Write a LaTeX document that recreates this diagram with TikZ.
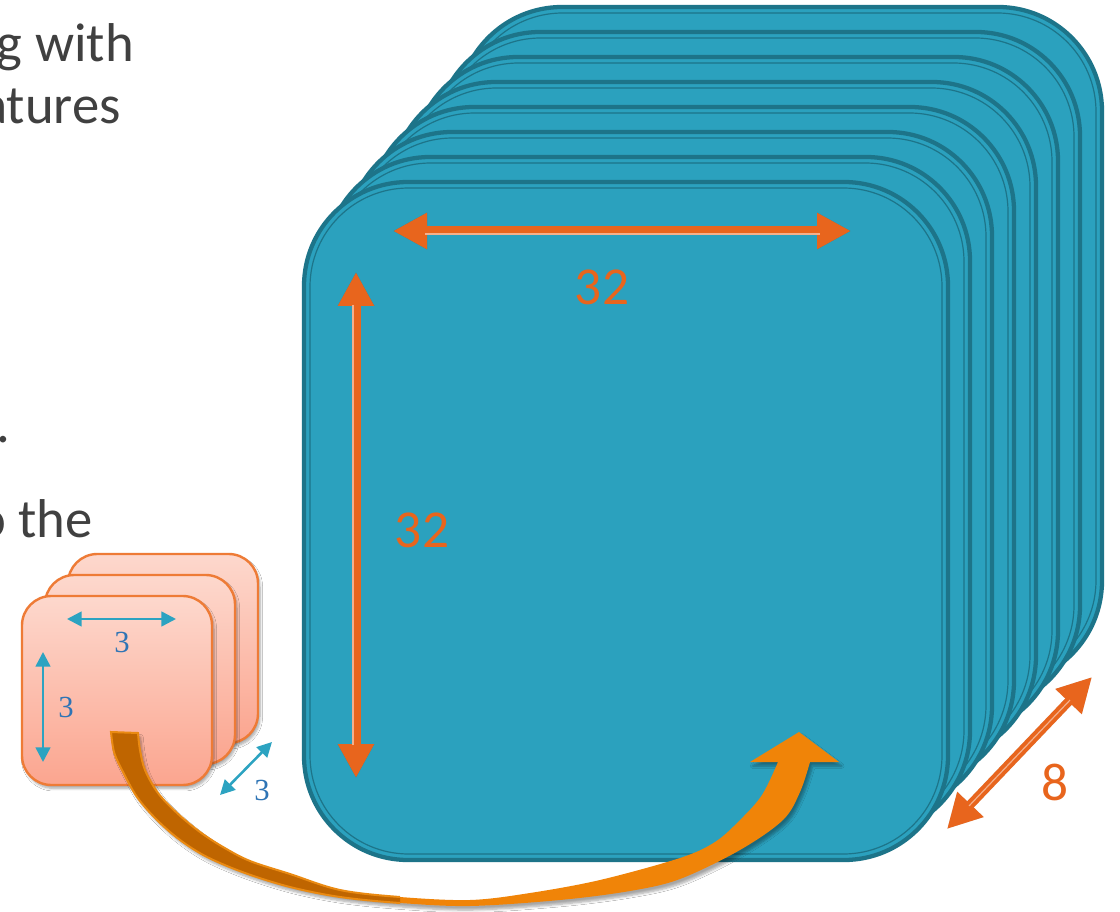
\documentclass[tikz,border=0pt]{standalone}
\usepackage{fontspec}
\setmainfont{Carlito}
\newfontfamily\serifdigits{Liberation Serif}
\usetikzlibrary{arrows.meta,shadows.blur}
\definecolor{bluefill}{HTML}{2BA1BE}
\definecolor{bluedark}{HTML}{1D7489}
\definecolor{orangeA}{HTML}{E8651D}
\definecolor{orangeLight}{HTML}{F4B08C}
\definecolor{pinkTop}{HTML}{FDD8CD}
\definecolor{pinkBot}{HTML}{FBA58F}
\definecolor{pinkEdge}{HTML}{EE7B36}
\definecolor{smallblue}{HTML}{2CA3C1}
\definecolor{labelblue}{HTML}{2E74B5}
\definecolor{textgray}{HTML}{404040}
\definecolor{curveLight}{HTML}{F08408}
\definecolor{curveDark}{HTML}{BF6500}
\definecolor{curveRim}{HTML}{EA8A12}
\def\curveshape{plot[smooth,tension=0.55] coordinates {(111,732) (114,752) (122,770) (137,797) (157,820) (180,840) (207,857) (245,873) (290,887) (340,897) (400,903) (470,906) (560,900) (630,891) (680,879) (740,850) (783,820) (800,792) (810,762)} -- (839,762) -- (799,732) -- (750,762) -- plot[smooth,tension=0.55] coordinates {(778,762) (762,795) (740,820) (715,842) (680,858) (600,880) (530,893) (470,900) (400,897) (340,890) (290,874) (250,861) (223,847) (200,832) (177,813) (158,793) (145,770) (140,750) (138,733)} -- cycle}
\begin{document}
\begin{tikzpicture}[x=0.75pt,y=-0.75pt,
  bluelayer/.style={fill=bluefill,draw=bluedark,line width=3.2pt,rounded corners=78pt},
  blueinner/.style={draw=bluedark,line width=0.9pt,rounded corners=74pt},
  pinklayer/.style={top color=pinkTop,bottom color=pinkBot,draw=pinkEdge,line width=1.8pt,rounded corners=22pt,
    blur shadow={shadow xshift=1.5pt,shadow yshift=-2.5pt,shadow blur steps=6,shadow opacity=35}},
  bigarrow/.style={draw=orangeA,line width=6.75pt,{Triangle[length=25.5pt,width=25.5pt]}-{Triangle[length=25.5pt,width=25.5pt]}},
  bigshadow/.style={draw=black,opacity=0.18,line width=6.75pt,{Triangle[length=25.5pt,width=25.5pt]}-{Triangle[length=25.5pt,width=25.5pt]},xshift=2pt,yshift=-3pt},
  stripe/.style={draw=orangeLight,line width=0.9pt},
  smallarrow/.style={draw=smallblue,line width=1.9pt,{Triangle[length=11pt,width=11pt]}-{Triangle[length=11pt,width=11pt]}},
  biglabel/.style={text=orangeA,font=\fontsize{40}{48}\selectfont,inner sep=0pt},
  smalllabel/.style={text=labelblue,font=\serifdigits\fontsize{23}{27}\selectfont,inner sep=0pt},
  bodytext/.style={text=textgray,font=\fontsize{41}{49}\selectfont,inner sep=0pt,anchor=base east}
]
\clip (0,0) rectangle (1120,912);
\fill[white] (0,0) rectangle (1120,912);

% partially visible body text
\node[bodytext] (t1) at (134,62) {g with};
\node[bodytext] (t2) at (121,124) {atures};
\node[bodytext] (t3) at (11,442) {.};
\node[bodytext] (t4) at (93,537) {o the};

% blue stack of 8 feature maps
\foreach \i in {7,6,...,0}{
  \pgfmathsetmacro\lx{304+22*\i}
  \pgfmathsetmacro\ly{182-25*\i}
  \path[bluelayer] (\lx,\ly) rectangle ++(644,678);
  \path[blueinner] (\lx+6,\ly+6) rectangle ++(632,666);
}

% orange dimension arrows
\coordinate (h1) at (393,231); \coordinate (h2) at (851,231);
\coordinate (v1) at (356,272); \coordinate (v2) at (356,778);
\coordinate (d1) at (947,829); \coordinate (d2) at (1092,677);
\draw[bigshadow] (h1) -- (h2);
\draw[bigarrow] (h1) -- (h2);
\draw[stripe] (425,234) -- (820,234);
\draw[bigshadow] (v1) -- (v2);
\draw[bigarrow] (v1) -- (v2);
\draw[stripe] (353,305) -- (353,745);
\draw[bigshadow] (d1) -- (d2);
\draw[bigarrow] (d1) -- (d2);
\draw[stripe,shorten <=24pt,shorten >=24pt] (d1) -- (d2);
\node[biglabel] (l32a) at (602,287) {32};
\node[biglabel] (l32b) at (422,530) {32};
\node[biglabel] (l8) at (1055,782) {8};

% pink stack of 3 filters
\path[pinklayer] (68,554) rectangle ++(190,189);
\path[pinklayer] (45,575) rectangle ++(190,189);
\path[pinklayer] (22,596) rectangle ++(190,189);

% small blue dimension arrows
\coordinate (sh1) at (67,619); \coordinate (sh2) at (176,619);
\coordinate (sv1) at (43,652); \coordinate (sv2) at (43,762);
\coordinate (sd1) at (220,795); \coordinate (sd2) at (272,742);
\draw[smallarrow] (sh1) -- (sh2);
\draw[smallarrow] (sv1) -- (sv2);
\draw[smallarrow] (sd1) -- (sd2);
\node[smalllabel] (s3a) at (122,642) {3};
\node[smalllabel] (s3b) at (66,707) {3};
\node[smalllabel] (s3c) at (262,790) {3};

% big curved arrow from filter to feature map
\fill[curveLight,blur shadow={shadow xshift=2pt,shadow yshift=-3pt,shadow blur steps=6,shadow opacity=35}] \curveshape;
\begin{scope}
  \clip (0,0) rectangle (400,912);
  \filldraw[fill=curveDark,draw=curveRim,line width=1.5pt] \curveshape;
\end{scope}
\end{tikzpicture}
\end{document}
